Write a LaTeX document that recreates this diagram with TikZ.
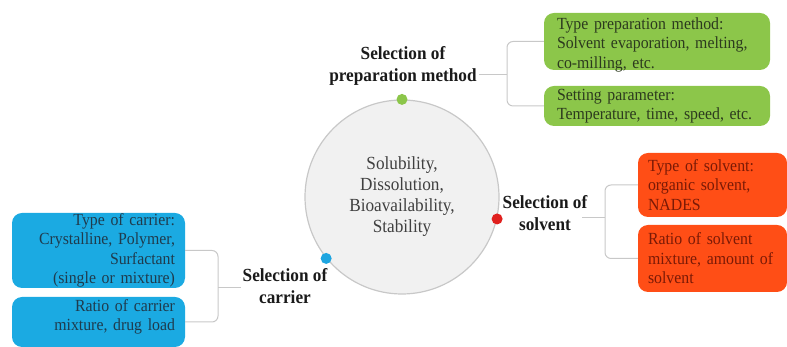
\documentclass[tikz,border=0pt]{standalone}
\usepackage{fontspec}
\setmainfont[FakeStretch=0.93]{Liberation Serif}
\definecolor{ringgray}{HTML}{C8C8C8}
\definecolor{hubgray}{HTML}{F1F1F1}
\definecolor{hubtext}{HTML}{404040}
\definecolor{lbltext}{HTML}{1A1A1A}
\definecolor{gfill}{HTML}{8CC64A}
\definecolor{gtext}{HTML}{2C3A1E}
\definecolor{gdot}{HTML}{8CC64A}
\definecolor{rfill}{HTML}{FF4E16}
\definecolor{rtext}{HTML}{7A1A06}
\definecolor{rdot}{HTML}{E0201E}
\definecolor{bfill}{HTML}{1BAAE2}
\definecolor{btext}{HTML}{1F3B4D}
\definecolor{bdot}{HTML}{1EA5E0}
\begin{document}
\begin{tikzpicture}[x=1pt, y=1pt,
                    hub/.style={draw=ringgray, line width=1.2pt, fill=hubgray, circle, minimum size=194pt, inner sep=0, align=center, text=hubtext, font=\fontsize{18.5}{21}\selectfont},
                    dot/.style={circle, minimum size=11pt, inner sep=0},
                    lbl/.style={align=center, inner sep=2pt, text=lbltext, font=\fontsize{18.5}{21.5}\selectfont\bfseries},
                    box/.style={rectangle, rounded corners=10pt, inner ysep=0, font=\fontsize{17}{19.5}\selectfont},
                    gbox/.style={box, fill=gfill, text=gtext, inner xsep=13pt, text width=200pt, align=left},
                    rbox/.style={box, fill=rfill, text=rtext, inner xsep=10pt, text width=129pt, align=left},
                    bbox/.style={box, fill=bfill, text=btext, inner xsep=10pt, text width=153pt, align=right},
                    branch/.style={draw=ringgray, line width=1pt, rounded corners=6pt}]
  \useasboundingbox (0,0) rectangle (787,347);
  \node(hub)[hub] at (402,150){Solubility,\\Dissolution,\\Bioavailability,\\Stability};
  \node(g_dot)[dot, fill=gdot] at (hub.90){};
  \node(r_dot)[dot, fill=rdot] at (hub.-13){};
  \node(b_dot)[dot, fill=bdot] at (hub.219){};
  \node(prep)[lbl] at (403,281){Selection of\\preparation method};
  \node(solv)[lbl] at (545,134){Selection of\\solvent};
  \node(carr)[lbl] at (285,61){Selection of\\carrier};
  \coordinate(g_fork) at (507,272);
  \coordinate(r_stem) at (582,129);
  \coordinate(r_fork) at (605,129);
  \coordinate(b_fork) at (218,59);
  \draw[branch] (g_fork -| prep.east) -- (g_fork);
  \draw[branch] (r_stem) -- (r_fork);
  \draw[branch] (carr.west |- b_fork) -- (b_fork);
  \node(g_type)[gbox, minimum height=57pt] at (657,305.5){Type preparation method:\\Solvent evaporation, melting,\\co-milling, etc.\par\vspace{-6pt}};
  \node(g_param)[gbox, minimum height=40pt] at (657,241){Setting parameter:\\Temperature, time, speed, etc.};
  \node(r_type)[rbox, minimum height=64pt] at (712.5,162){Type of solvent:\\organic solvent,\\NADES};
  \node(r_ratio)[rbox, minimum height=67pt] at (712.5,88.5){Ratio of solvent\\mixture, amount of\\solvent};
  \node(b_type)[bbox, minimum height=75pt] at (98.5,96.5){Type of carrier:\\Crystalline, Polymer,\\Surfactant\\(single or mixture)};
  \node(b_ratio)[bbox, minimum height=50pt] at (98.5,25){Ratio of carrier\\mixture, drug load\par\vspace{10pt}};
  \draw[branch] (g_type.west) -| (g_fork) |- (g_param.west);
  \draw[branch] (r_type.west) -| (r_fork) |- (r_ratio.west);
  \draw[branch] (b_type.east) -| (b_fork) |- (b_ratio.east);
\end{tikzpicture}
\end{document}
